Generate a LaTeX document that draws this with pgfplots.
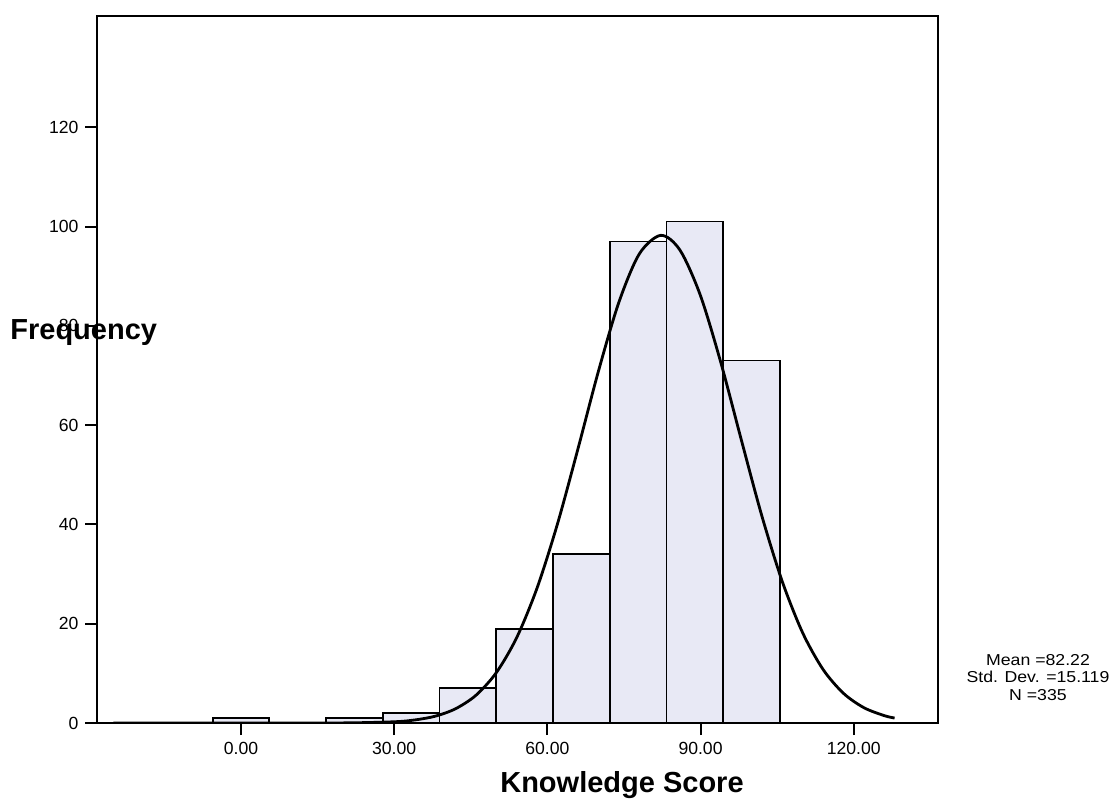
\documentclass[border=0pt]{standalone}
\usepackage{fontspec}
\setmainfont{Liberation Sans}
\newfontfamily\statfont[FakeStretch=1.12]{Liberation Sans}
\usepackage{pgfplots}
\pgfplotsset{compat=1.18}
\definecolor{barfill}{RGB}{232,233,245}
\begin{document}
\begin{tikzpicture}[x=1pt,y=1pt]
\path (0,0) rectangle (558,400);
\begin{axis}[
  at={(48.75pt,38.5pt)}, anchor=south west,
  scale only axis, width=420.5pt, height=353.5pt,
  xmin=-28.1, xmax=136.6, ymin=0, ymax=142.4,
  xtick={0,30,60,90,120},
  xticklabels={0.00,30.00,60.00,90.00,120.00},
  ytick={0,20,...,120},
  tick align=outside, major tick length=6pt,
  xtick pos=lower, ytick pos=left,
  tick style={black, line width=1pt},
  axis line style={line width=1pt},
  tick label style={font=\fontsize{8.8}{10}\selectfont},
  /pgf/number format/assume math mode=true,
]
\addplot[ybar, bar width=11.111, fill=barfill, draw=black, line width=0.9pt]
  coordinates {(0,1) (11.111,0) (22.222,1) (33.333,2) (44.444,7) (55.556,19) (66.667,34) (77.778,97) (88.889,101) (100,73)};
\addplot[smooth, line width=1.4pt, black] coordinates {
  (-25,0) (0,0) (20,0.02) (30,0.25) (34,0.61) (38,1.36) (42,2.86) (46,5.57) (50,10.14)
  (54,17.21) (58,27.23) (62,40.17) (66,55.25) (70,70.85) (74,84.72) (78,94.47)
  (82.22,98.22) (86,95.20) (90,86.04) (94,72.50) (98,56.97) (102,41.73) (106,28.51)
  (110,18.16) (114,10.78) (118,5.97) (122,3.08) (126,1.48) (128,1.00)};
\end{axis}
\node[font=\fontsize{14.5}{17}\selectfont\bfseries, anchor=base west, inner sep=0pt] at (5,230) {Frequency};
\node[font=\fontsize{14.5}{17}\selectfont\bfseries, anchor=base, inner sep=0pt] at (311,4) {Knowledge Score};
\node[font=\statfont\fontsize{7.9}{9}\selectfont, anchor=base, inner sep=0pt] at (519,67.5) {Mean =82.22};
\node[font=\statfont\fontsize{7.9}{9}\selectfont, anchor=base, inner sep=0pt] at (519,58.65) {Std. Dev. =15.119};
\node[font=\statfont\fontsize{7.9}{9}\selectfont, anchor=base, inner sep=0pt] at (519,50) {N =335};
\end{tikzpicture}
\end{document}
